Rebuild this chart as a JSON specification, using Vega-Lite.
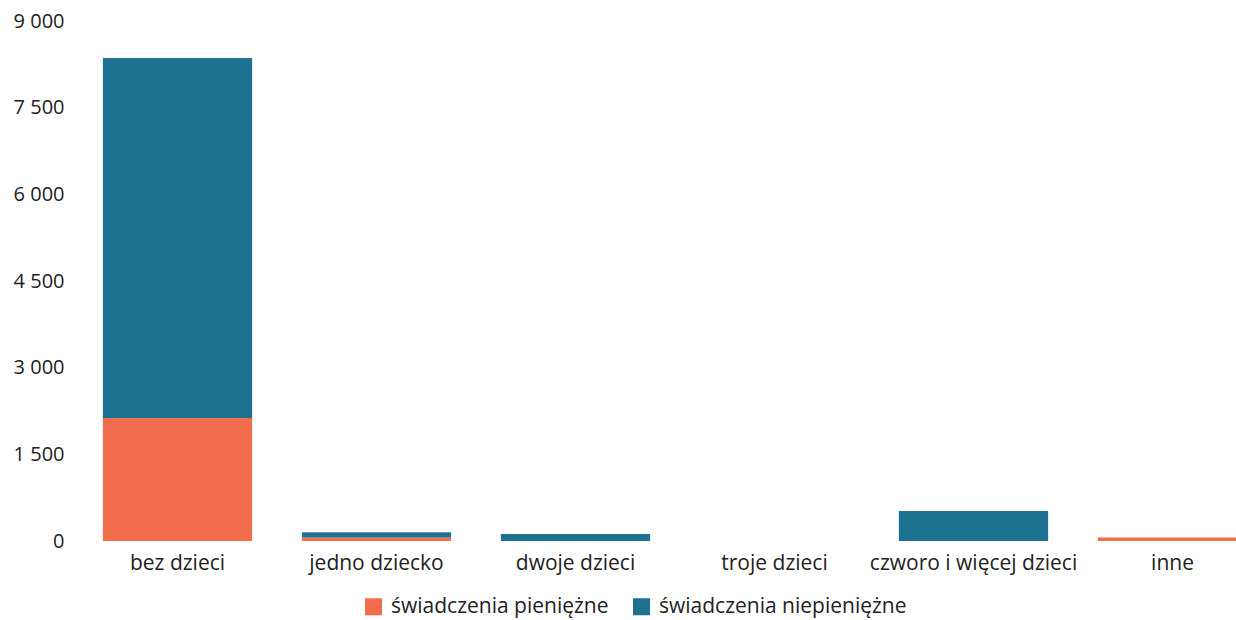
{
  "$schema": "https://vega.github.io/schema/vega-lite/v6.json",
  "autosize": {"type": "none"},
  "padding": {"left": 78, "top": 21, "right": 0, "bottom": 79},
  "width": 1194,
  "height": 520,
  "background": "white",
  "config": {
    "font": "Open Sans",
    "view": {"stroke": null}
  },
  "data": {
    "values": [
      {"grupa": "bez dzieci", "typ": "świadczenia pieniężne", "wartosc": 2130},
      {"grupa": "bez dzieci", "typ": "świadczenia niepieniężne", "wartosc": 6230},
      {"grupa": "jedno dziecko", "typ": "świadczenia pieniężne", "wartosc": 60},
      {"grupa": "jedno dziecko", "typ": "świadczenia niepieniężne", "wartosc": 90},
      {"grupa": "dwoje dzieci", "typ": "świadczenia pieniężne", "wartosc": 0},
      {"grupa": "dwoje dzieci", "typ": "świadczenia niepieniężne", "wartosc": 120},
      {"grupa": "troje dzieci", "typ": "świadczenia pieniężne", "wartosc": 0},
      {"grupa": "troje dzieci", "typ": "świadczenia niepieniężne", "wartosc": 0},
      {"grupa": "czworo i więcej dzieci", "typ": "świadczenia pieniężne", "wartosc": 0},
      {"grupa": "czworo i więcej dzieci", "typ": "świadczenia niepieniężne", "wartosc": 520},
      {"grupa": "inne", "typ": "świadczenia pieniężne", "wartosc": 60},
      {"grupa": "inne", "typ": "świadczenia niepieniężne", "wartosc": 0}
    ]
  },
  "mark": {"type": "bar"},
  "encoding": {
    "x": {
      "field": "grupa",
      "type": "nominal",
      "sort": null,
      "scale": {"paddingInner": 0.25, "paddingOuter": 0.125},
      "axis": {
        "title": null,
        "labelAngle": 0,
        "labelFontSize": 21,
        "labelLimit": 0,
        "labelColor": "#222222",
        "labelPadding": 11,
        "ticks": false,
        "domain": false
      }
    },
    "y": {
      "field": "wartosc",
      "type": "quantitative",
      "stack": "zero",
      "scale": {"domain": [0, 9000], "nice": false},
      "axis": {
        "title": null,
        "values": [0, 1500, 3000, 4500, 6000, 7500, 9000],
        "labelExpr": "replace(format(datum.value, ','), ',', ' ')",
        "labelFontSize": 20,
        "labelColor": "#222222",
        "labelPadding": 14,
        "ticks": false,
        "domain": false,
        "grid": false
      }
    },
    "color": {
      "field": "typ",
      "type": "nominal",
      "scale": {
        "domain": ["świadczenia pieniężne", "świadczenia niepieniężne"],
        "range": ["#f26d4b", "#1d7191"]
      },
      "legend": {
        "title": null,
        "orient": "none",
        "direction": "horizontal",
        "legendX": 285,
        "legendY": 575,
        "symbolType": "square",
        "symbolSize": 290,
        "symbolStrokeWidth": 0,
        "labelFontSize": 21,
        "labelLimit": 0,
        "labelColor": "#222222",
        "columnPadding": 22,
        "labelOffset": 7
      }
    },
    "order": {"field": "typ", "sort": "descending"}
  }
}
